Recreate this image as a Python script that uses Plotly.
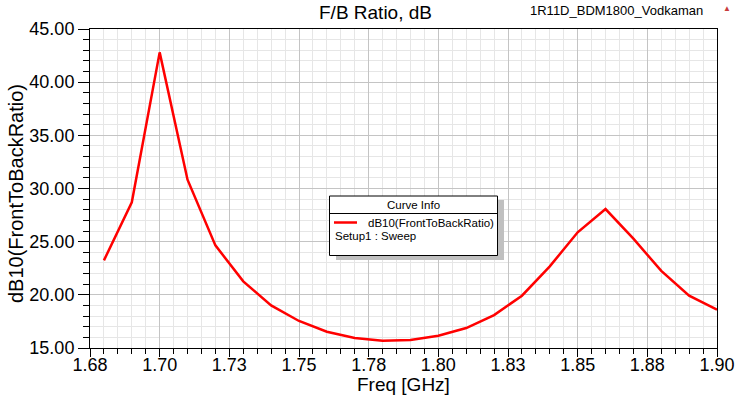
import plotly.graph_objects as go

# ---- data ----
freq_ghz = [1.68, 1.69, 1.70, 1.71, 1.72, 1.73, 1.74, 1.75, 1.76, 1.77, 1.78, 1.79,
            1.80, 1.81, 1.82, 1.83, 1.84, 1.85, 1.86, 1.87, 1.88, 1.89, 1.90]
fb_ratio_db = [23.24, 28.70, 42.80, 30.83, 24.65, 21.27, 19.01, 17.54, 16.53, 15.94,
               15.69, 15.75, 16.16, 16.88, 18.10, 19.92, 22.68, 25.88, 28.07, 25.28,
               22.25, 19.92, 18.60]
x_tick_vals = [1.675, 1.700, 1.725, 1.750, 1.775, 1.800, 1.825, 1.850, 1.875, 1.900]
x_tick_labels = ["1.68", "1.70", "1.73", "1.75", "1.78", "1.80", "1.83", "1.85", "1.88", "1.90"]
y_tick_vals = [15, 20, 25, 30, 35, 40, 45]
y_tick_labels = ["15.00", "20.00", "25.00", "30.00", "35.00", "40.00", "45.00"]
series_name = "dB10(FrontToBackRatio)"
setup_label = "Setup1 : Sweep"
chart_title = "F/B Ratio, dB"
project_label = "1R11D_BDM1800_Vodkaman"
x_title = "Freq [GHz]"

W, H = 743, 398
L, R, T, B = 90, 26, 29, 50
PW, PH = W - L - R, H - T - B
FONT = "Liberation Sans, Arial, sans-serif"


def px(x):
    return (x - L) / PW


def py(y):
    return (H - B - y) / PH


fig = go.Figure()
fig.add_trace(go.Scatter(x=freq_ghz, y=fb_ratio_db, mode="lines",
                         line=dict(color="#ff0000", width=2.5),
                         name=series_name, showlegend=False, hoverinfo="skip"))

axis_common = dict(showline=True, linecolor="black", linewidth=1, mirror=True,
                   showgrid=True, gridcolor="#c4c4c4", gridwidth=1,
                   ticks="outside", tickcolor="black", tickwidth=1,
                   tickfont=dict(family=FONT, size=18, color="black"),
                   zeroline=False, automargin=False)

fig.update_xaxes(**axis_common, range=[1.675, 1.900], tickmode="array",
                 tickvals=x_tick_vals, ticktext=x_tick_labels, ticklen=8,
                 ticklabelstandoff=-8,
                 minor=dict(tickmode="linear", tick0=1.675, dtick=0.005, ticks="outside",
                            ticklen=5, tickcolor="black", showgrid=True,
                            gridcolor="#e6e6e6", gridwidth=1))
fig.update_yaxes(**axis_common, range=[15, 45], tickmode="array",
                 tickvals=y_tick_vals, ticktext=y_tick_labels, ticklen=11,
                 minor=dict(tickmode="linear", tick0=15, dtick=1, ticks="outside",
                            ticklen=6, tickcolor="black", showgrid=True,
                            gridcolor="#e6e6e6", gridwidth=1))

shapes = [
    # legend shadow
    dict(type="rect", xref="paper", yref="paper", x0=px(336), x1=px(504), y0=py(200), y1=py(260),
         fillcolor="#c0c0c0", line=dict(width=0), layer="above"),
    # legend box
    dict(type="rect", xref="paper", yref="paper", x0=px(329.5), x1=px(497.5), y0=py(196), y1=py(255.5),
         fillcolor="white", line=dict(color="black", width=1), layer="above"),
    # header separator
    dict(type="line", xref="paper", yref="paper", x0=px(329.5), x1=px(497.5), y0=py(213.5), y1=py(213.5),
         line=dict(color="black", width=1), layer="above"),
    # legend sample line
    dict(type="line", xref="paper", yref="paper", x0=px(334), x1=px(357), y0=py(222.5), y1=py(222.5),
         line=dict(color="#ff0000", width=2.5), layer="above"),
]

annotations = [
    dict(text=chart_title, xref="paper", yref="paper", x=px(375.5), y=py(12),
         xanchor="center", yanchor="middle", showarrow=False,
         font=dict(family=FONT, size=19, color="black")),
    dict(text=project_label, xref="paper", yref="paper", x=px(705), y=py(11),
         xanchor="right", yanchor="middle", showarrow=False,
         font=dict(family=FONT, size=13, color="black")),
    dict(text="▲", xref="paper", yref="paper", x=px(727), y=py(9),
         xanchor="center", yanchor="middle", showarrow=False,
         font=dict(family=FONT, size=8, color="#c83c3c")),
    dict(text=x_title, xref="paper", yref="paper", x=px(403.5), y=py(384),
         xanchor="center", yanchor="middle", showarrow=False,
         font=dict(family=FONT, size=19, color="black")),
    dict(text=series_name, xref="paper", yref="paper", x=px(16), y=py(194),
         xanchor="center", yanchor="middle", showarrow=False, textangle=-90,
         font=dict(family=FONT, size=20, color="black")),
    dict(text="Curve Info", xref="paper", yref="paper", x=px(413.5), y=py(205),
         xanchor="center", yanchor="middle", showarrow=False,
         font=dict(family=FONT, size=11.5, color="black")),
    dict(text=series_name, xref="paper", yref="paper", x=px(366), y=py(222.5),
         xanchor="left", yanchor="middle", showarrow=False,
         font=dict(family=FONT, size=11.5, color="black")),
    dict(text=setup_label, xref="paper", yref="paper", x=px(333), y=py(236),
         xanchor="left", yanchor="middle", showarrow=False,
         font=dict(family=FONT, size=11.5, color="black")),
]

fig.update_layout(width=W, height=H, margin=dict(l=L, r=R, t=T, b=B, pad=0),
                  paper_bgcolor="white", plot_bgcolor="white",
                  shapes=shapes, annotations=annotations, showlegend=False,
                  font=dict(family=FONT, color="black"), hovermode=False)

fig.write_html("out.html", config={"displayModeBar": False},
               post_script="document.documentElement.style.margin='0';"
                           "document.body.style.margin='0';"
                           "document.body.style.overflow='hidden';")
